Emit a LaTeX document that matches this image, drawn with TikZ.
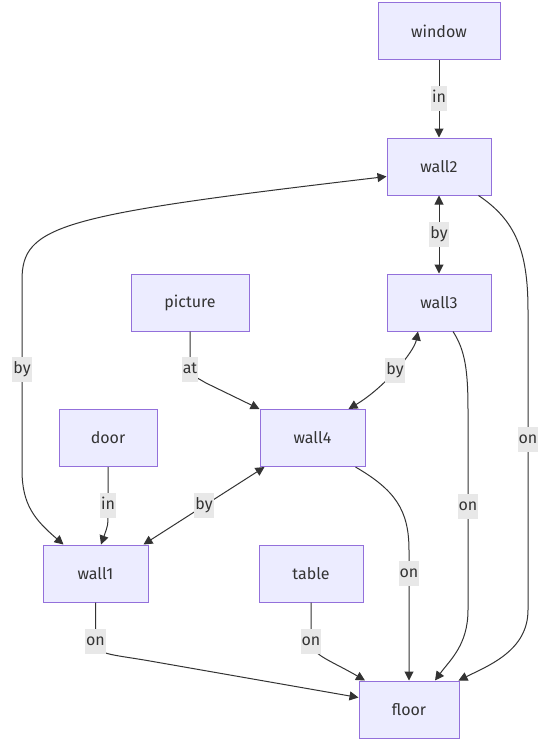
\documentclass[tikz,border=0pt]{standalone}
\usepackage{fontspec}
\setmainfont{Fira Sans}
\usepackage{xcolor}
\usetikzlibrary{positioning,arrows.meta,shapes}
\definecolor{roomfill}{HTML}{ECECFF}
\definecolor{roomline}{HTML}{9370DB}
\definecolor{inkgray}{HTML}{333333}
\definecolor{tagfill}{HTML}{E8E8E8}

\begin{document}
\begin{tikzpicture}[x=1pt, y=-1pt,
    room/.style={rectangle, draw=roomline, fill=roomfill, line width=1pt, minimum height=57pt, font=\fontsize{16}{19}\selectfont, text=inkgray},
    link/.style={line width=1pt, draw=inkgray, -{Triangle[length=9pt,width=9pt]}},
    twoway/.style={link, {Triangle[length=9pt,width=9pt]}-{Triangle[length=9pt,width=9pt]}},
    tag/.style={fill=tagfill, text=inkgray, font=\fontsize{16}{19}\selectfont, inner xsep=1pt, inner ysep=0pt, text height=12pt, text depth=4pt, minimum height=25pt}]
    \useasboundingbox (0,0) rectangle (546,740);

    % Rooms and things
    \node[room, minimum width=122pt] (window) at (439,31) {window};
    \node[room, minimum width=104pt] (wall2) at (439,166.5) {wall2};
    \node[room, minimum width=104pt] (wall3) at (439,302.5) {wall3};
    \node[room, minimum width=118pt] (picture) at (190,302.5) {picture};
    \node[room, minimum width=105pt] (wall4) at (312.5,438) {wall4};
    \node[room, minimum width=98pt] (door) at (108,438) {door};
    \node[room, minimum width=105pt] (wall1) at (95.5,573.5) {wall1};
    \node[room, minimum width=104pt] (table) at (311,573.5) {table};
    \node[room, minimum width=100pt] (floor) at (409,709.5) {floor};

    % Straight links
    \draw[link] (window) -- node[tag]{in} (wall2);
    \draw[twoway] (wall2) -- node[tag]{by} (wall3);
    \draw[twoway] ([xshift=5pt]wall4.south west) -- node[tag]{by} ([xshift=-5pt]wall1.north east);
    \draw[link] (door.south) -- node[tag, pos=0.8]{in} (108,515) .. controls (108,525) .. ([xshift=5.5pt]wall1.north);

    % Curved links
    \draw[twoway] ([yshift=-10pt]wall2.west) .. controls (60,215) and (22,225) .. (22,280)
        -- node[tag, pos=0.47]{by} (22,470) .. controls (22,505) and (35,520) .. ([xshift=-32pt]wall1.north);
    \draw[link] ([xshift=-13pt]wall2.south east) .. controls (515,220) and (528,250) .. (528,310)
        -- node[tag, pos=0.43]{on} (528,610) .. controls (528,650) and (490,665) .. ([xshift=-1pt]floor.north east);
    \draw[link] (picture.south) -- node[tag, at end]{at} (190,369) .. controls (190,375) and (196,377) .. (206,383) -- (wall4.north west);
    \draw[twoway] ([xshift=-21pt]wall3.south) .. controls (414,352) and (384,388) .. node[tag]{by} ([xshift=36pt]wall4.north);
    \draw[link] ([xshift=14pt]wall3.south) .. controls (465,350) and (468,370) .. (468,410)
        -- node[tag, pos=0.48]{on} (468,610) .. controls (468,645) and (450,660) .. ([xshift=26pt]floor.north);
    \draw[link] ([xshift=-10pt]wall4.south east) .. controls (395,490) and (409,510) .. (409,550)
        -- node[tag, pos=0.18]{on} (floor.north);
    \draw[link] (wall1.south) -- node[tag, at end]{on} (95.5,641) .. controls (95.5,655) and (110,654) .. (150,661)
        -- ([yshift=12pt]floor.west);
    \draw[link] (table.south) -- node[tag, at end]{on} (311,641) .. controls (311,655) and (330,660) .. ([xshift=-44pt]floor.north);
\end{tikzpicture}
\end{document}
